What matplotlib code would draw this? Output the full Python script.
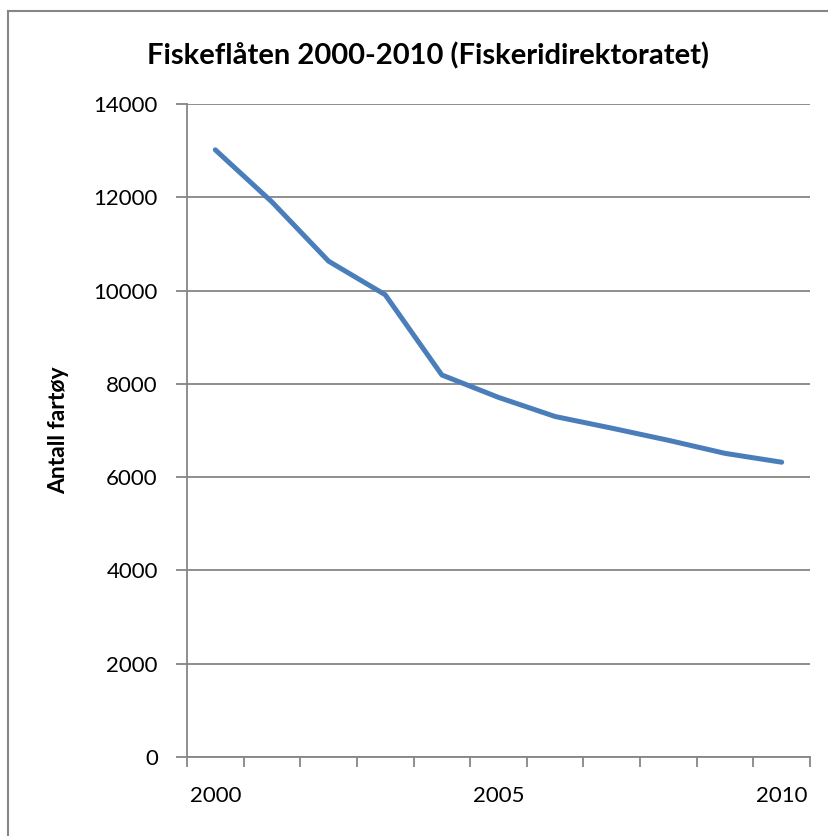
import matplotlib
matplotlib.use("Agg")
import matplotlib.pyplot as plt
from matplotlib.lines import Line2D

# Fiskeflåten, antall fartøy per år
years = [2000, 2001, 2002, 2003, 2004, 2005, 2006, 2007, 2008, 2009, 2010]
vessels = [13017, 11900, 10630, 9910, 8190, 7710, 7300, 7050, 6790, 6510, 6320]
year_labels = ["2000", "2005", "2010"]
y_ticks = [0, 2000, 4000, 6000, 8000, 10000, 12000, 14000]

GRID = "#868686"
BLUE = "#4a7ebb"
FONT = "Lato"

fig = plt.figure(figsize=(8.29, 8.36), dpi=100)
ax = fig.add_axes([187 / 829, 1 - 757 / 836, 623 / 829, 653 / 836])

idx = list(range(len(years)))
ax.plot(idx, vessels, color=BLUE, linewidth=3.6, solid_capstyle="round",
        solid_joinstyle="round", zorder=3)

ax.set_xlim(-0.5, len(years) - 0.5)
ax.set_ylim(0, 14000)

# y axis: Excel-like gridlines + small outward ticks
ax.set_yticks(y_ticks)
ax.set_yticklabels([str(v) for v in y_ticks], fontfamily=FONT, fontsize=16)
ax.yaxis.grid(True, color=GRID, linewidth=1.3)
ax.tick_params(axis="y", direction="out", length=8, width=1.3, color=GRID, pad=13)

# x axis: labels on category centres, ticks between categories
lbl_pos = [years.index(int(s)) for s in year_labels]
ax.set_xticks(lbl_pos)
ax.set_xticklabels(year_labels, fontfamily=FONT, fontsize=16)
ax.tick_params(axis="x", which="major", length=0, pad=21)
ax.set_xticks([i - 0.5 for i in range(len(years) + 1)], minor=True)
ax.tick_params(axis="x", which="minor", direction="out", length=7, width=1.3, color=GRID)

for side in ("top", "right"):
    ax.spines[side].set_visible(False)
for side in ("left", "bottom"):
    ax.spines[side].set_color(GRID)
    ax.spines[side].set_linewidth(1.3)
ax.set_axisbelow(True)

fig.text(428 / 829, 1 - 56 / 836, "Fiskeflåten 2000-2010 (Fiskeridirektoratet)",
         ha="center", va="center", fontfamily=FONT, fontweight="bold", fontsize=21)
fig.text(59 / 829, 1 - 430 / 836, "Antall fartøy", rotation=90,
         ha="center", va="center", fontfamily=FONT, fontweight="bold", fontsize=16.5)

# outer chart border (only left and top visible in the crop)
fig.add_artist(Line2D([8 / 829, 8 / 829], [0, 1 - 11 / 836], transform=fig.transFigure,
                      color=GRID, linewidth=1.5))
fig.add_artist(Line2D([8 / 829, 1], [1 - 11 / 836, 1 - 11 / 836], transform=fig.transFigure,
                      color=GRID, linewidth=1.5))

fig.savefig("out.png", dpi=100)
